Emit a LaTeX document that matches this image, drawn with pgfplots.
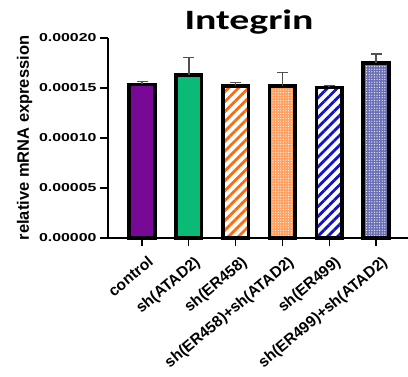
\documentclass[border=0pt]{standalone}
\usepackage{fontspec}
\setmainfont{Liberation Sans}
\newfontfamily\tickfnt[FakeStretch=1.38]{Liberation Sans}
\newfontfamily\titlefont[FakeStretch=1.42]{Carlito}
\usepackage{pgfplots}
\pgfplotsset{compat=1.18}
\usetikzlibrary{patterns,patterns.meta,calc}
\definecolor{cpurple}{RGB}{120,8,150}
\definecolor{cgreen}{RGB}{12,186,120}
\definecolor{corange}{RGB}{255,106,10}
\definecolor{clorange}{RGB}{255,160,96}
\definecolor{cblue}{RGB}{18,18,200}
\definecolor{cslate}{RGB}{107,111,181}
\definecolor{errgray}{RGB}{80,80,80}
\begin{document}
\begin{tikzpicture}
\begin{axis}[
  name=ax,
  scale only axis,
  width=300pt, height=200pt,
  xmin=-0.727, xmax=5.683,
  ymin=0, ymax=0.0002,
  axis x line*=bottom, axis y line*=left,
  axis line style={line width=1.2pt, -},
  tick style={line width=1.2pt, black},
  tick align=outside,
  major tick length=8pt,
  xtick={0,1,2,3,4,5},
  xticklabels={control,sh(ATAD2),sh(ER458),sh(ER458)+sh(ATAD2),sh(ER499),sh(ER499)+sh(ATAD2)},
  xticklabel style={font=\bfseries\fontsize{15.5}{17}\selectfont, rotate=40, anchor=north east, inner sep=2pt, yshift=-8pt},
  ytick={0,0.00005,0.0001,0.00015,0.0002},
  scaled y ticks=false,
  /pgf/number format/fixed, /pgf/number format/fixed zerofill, /pgf/number format/precision=5,
  /pgf/number format/assume math mode=true,
  yticklabel style={font=\tickfnt\bfseries\fontsize{11.5}{13}\selectfont},
  ylabel={relative mRNA expression},
  ylabel style={font=\bfseries\fontsize{16.5}{18}\selectfont, xshift=0pt},
  title={Integrin},
  title style={font=\titlefont\bfseries\fontsize{28}{30}\selectfont, at={(axis description cs:0.47,1)}, anchor=south, yshift=-6pt},
  clip=false,
  every axis plot/.append style={ybar, bar width=25.5pt, bar shift=0pt, draw=black, line width=3.6pt,
    error bars/y dir=plus, error bars/y explicit,
    error bars/error bar style={line width=1.5pt, draw=errgray},
    error bars/error mark options={rotate=90, mark size=5.5pt, line width=1.5pt, draw=errgray}},
]
\addplot[fill=cpurple] coordinates {(0,0.0001537) +- (0,0.000003)};
\addplot[fill=cgreen] coordinates {(1,0.0001633) +- (0,0.0000174)};
\addplot[pattern={Lines[angle=45,distance=7pt,line width=2.8pt]}, pattern color=corange] coordinates {(2,0.000152) +- (0,0.0000033)};
\addplot[fill=clorange, postaction={pattern={Dots[distance=2.6pt,radius=0.6pt]}, pattern color=white}] coordinates {(3,0.000152) +- (0,0.0000133)};
\addplot[pattern={Lines[angle=45,distance=7pt,line width=2.8pt]}, pattern color=cblue] coordinates {(4,0.0001507) +- (0,0.000002)};
\addplot[fill=cslate, postaction={pattern={Dots[distance=2.6pt,radius=0.6pt]}, pattern color=white}] coordinates {(5,0.000175) +- (0,0.000009)};
\end{axis}
\pgfresetboundingbox
\path ($(ax.south west)+(-108pt,-138pt)$) rectangle ($(ax.north east)+(0pt,38pt)$);
\end{tikzpicture}
\end{document}
